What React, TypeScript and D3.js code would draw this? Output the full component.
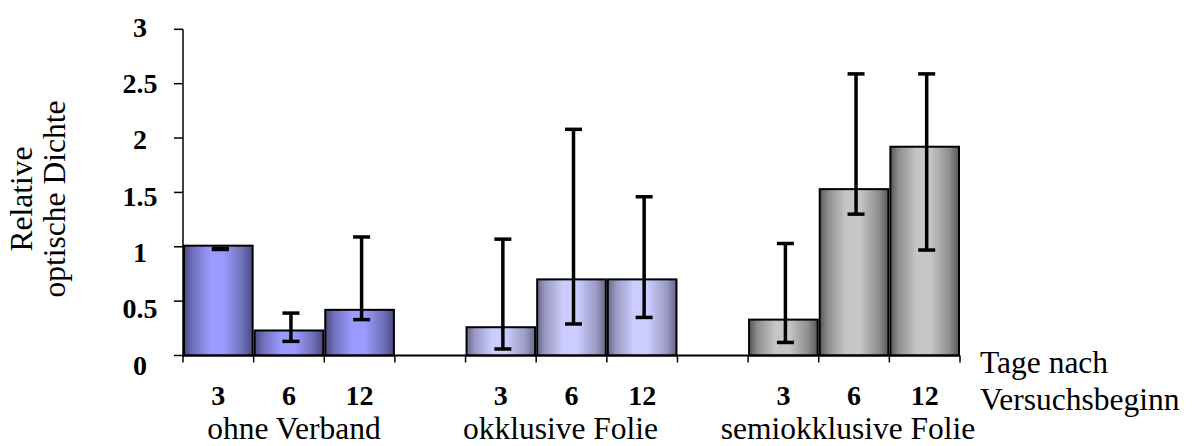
import React from 'react';
import * as d3 from 'd3';

const groups = ['ohne Verband', 'okklusive Folie', 'semiokklusive Folie'];
const days = ['3', '6', '12'];
const values = [
  [1.01, 0.23, 0.42],
  [0.26, 0.70, 0.70],
  [0.33, 1.53, 1.92],
];
const errLow = [
  [0.975, 0.13, 0.33],
  [0.06, 0.29, 0.35],
  [0.12, 1.30, 0.97],
];
const errHigh = [
  [0.985, 0.39, 1.09],
  [1.07, 2.08, 1.46],
  [1.03, 2.59, 2.59],
];
const yTicks = [0, 0.5, 1, 1.5, 2, 2.5, 3];
const yTickLabels = ['0', '0.5', '1', '1.5', '2', '2.5', '3'];
const yTitle = ['Relative', 'optische Dichte'];
const xTitle = ['Tage nach', 'Versuchsbeginn'];

const groupColors = [
  { dark: '#4a4a80', mid: '#6e6eb8', light: '#9a9aff' },
  { dark: '#68688a', mid: '#9a9ac4', light: '#ccccff' },
  { dark: '#575757', mid: '#8e8e8e', light: '#c6c6c6' },
];
// small horizontal nudges of the group captions, as laid out in the reference
const groupLabelShift = [5, -11, -6];

const FONT = "'Liberation Serif', 'Times New Roman', 'DejaVu Serif', serif";
const txt = { fontFamily: FONT };

export default function App() {
  const slots: string[] = [];
  groups.forEach((g, gi) => {
    days.forEach((d) => slots.push(`${gi}|${d}`));
    if (gi < groups.length - 1) slots.push(`gap${gi}`);
  });

  const x = d3.scaleBand<string>().domain(slots).range([183, 960]).padding(0);
  const y = d3.scaleLinear().domain([0, 3]).range([355.5, 29.3]);
  const yLab = d3.scaleLinear().domain([0, 3]).range([374.5, 36.7]);
  const bw = x.bandwidth();
  const errOffset = 2;
  const capW = 17;

  const boundaries = slots.map((s) => x(s) as number).concat([x.range()[1]]);

  return (
    <svg
      width={1196}
      height={446}
      style={{ position: 'absolute', left: 0, top: 0, background: '#fff' }}
    >
      <defs>
        {groupColors.map((c, i) => (
          <linearGradient key={i} id={`grad${i}`} x1="0" x2="1" y1="0" y2="0">
            <stop offset="0" stopColor={c.dark} />
            <stop offset="0.12" stopColor={c.mid} />
            <stop offset="0.38" stopColor={c.light} />
            <stop offset="0.58" stopColor={c.light} />
            <stop offset="0.86" stopColor={c.mid} />
            <stop offset="1" stopColor={c.dark} />
          </linearGradient>
        ))}
      </defs>

      {/* bars */}
      {groups.map((g, gi) =>
        days.map((d, di) => {
          const key = `${gi}|${d}`;
          const x0 = (x(key) as number) + 1;
          const v = values[gi][di];
          return (
            <rect
              key={key}
              x={x0}
              y={y(v)}
              width={bw - 2}
              height={y(0) - y(v)}
              fill={`url(#grad${gi})`}
              stroke="#000"
              strokeWidth={2}
            />
          );
        })
      )}

      {/* x axis */}
      <line x1={x.range()[0]} x2={x.range()[1]} y1={y(0)} y2={y(0)} stroke="#000" strokeWidth={2} />
      {boundaries.map((bx, i) => (
        <line key={i} x1={bx} x2={bx} y1={y(0)} y2={y(0) + 7} stroke="#000" strokeWidth={1.5} />
      ))}

      {/* y axis */}
      <line x1={183} x2={183} y1={y(3)} y2={y(0) + 1} stroke="#000" strokeWidth={1.5} />
      {yTicks.map((t, i) => (
        <g key={i}>
          <line x1={174} x2={183} y1={y(t)} y2={y(t)} stroke="#000" strokeWidth={1.5} />
          <text
            x={140}
            y={yLab(t)}
            textAnchor="middle"
            fontWeight="bold"
            fontSize={28}
            fill="#000"
            style={txt}
          >
            {yTickLabels[i]}
          </text>
        </g>
      ))}

      {/* error bars */}
      {groups.map((g, gi) =>
        days.map((d, di) => {
          const key = `${gi}|${d}`;
          const cx = (x(key) as number) + bw / 2 + errOffset;
          const lo = y(errLow[gi][di]);
          const hi = y(errHigh[gi][di]);
          return (
            <g key={`e${key}`} stroke="#000" strokeWidth={3.5}>
              <line x1={cx} x2={cx} y1={lo} y2={hi} />
              <line x1={cx - capW / 2} x2={cx + capW / 2} y1={lo} y2={lo} />
              <line x1={cx - capW / 2} x2={cx + capW / 2} y1={hi} y2={hi} />
            </g>
          );
        })
      )}

      {/* x tick labels */}
      {groups.map((g, gi) =>
        days.map((d) => {
          const key = `${gi}|${d}`;
          return (
            <text
              key={`l${key}`}
              x={(x(key) as number) + bw / 2}
              y={405}
              textAnchor="middle"
              fontWeight="bold"
              fontSize={28}
              fill="#000"
              style={txt}
            >
              {d}
            </text>
          );
        })
      )}

      {/* group labels */}
      {groups.map((g, gi) => {
        const first = x(`${gi}|${days[0]}`) as number;
        const last = (x(`${gi}|${days[days.length - 1]}`) as number) + bw;
        return (
          <text
            key={`g${gi}`}
            x={(first + last) / 2 + groupLabelShift[gi]}
            y={439}
            textAnchor="middle"
            fontSize={31.5}
            fill="#000"
            style={txt}
          >
            {g}
          </text>
        );
      })}

      {/* x axis title */}
      {xTitle.map((t, i) => (
        <text key={`xt${i}`} x={980} y={372.7 + i * 37.5} fontSize={31.5} fill="#000" style={txt}>
          {t}
        </text>
      ))}

      {/* y axis title */}
      {yTitle.map((t, i) => (
        <text
          key={`yt${i}`}
          transform={`translate(${32 + i * 33},199) rotate(-90)`}
          textAnchor="middle"
          fontSize={31.5}
          fill="#000"
          style={txt}
        >
          {t}
        </text>
      ))}
    </svg>
  );
}
